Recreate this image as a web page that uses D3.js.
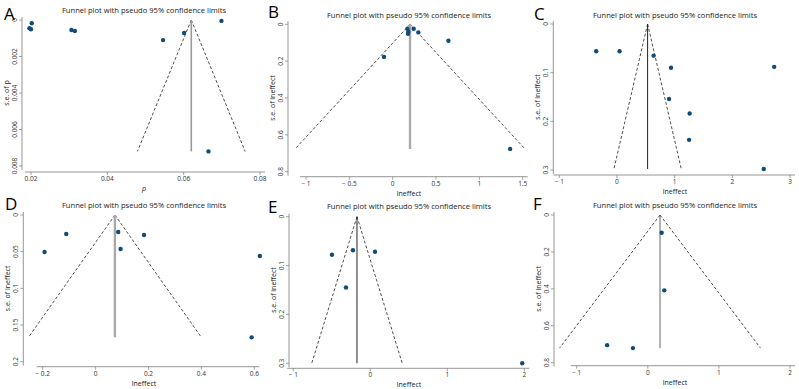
<!DOCTYPE html>
<html><head><meta charset="utf-8">
<script src="https://cdn.jsdelivr.net/npm/d3@7"></script>
<style>body{margin:0;background:#fff}svg{display:block}text{font-family:"Open Sans",sans-serif}</style>
</head><body><svg id="c" width="799" height="389"></svg>
<script>
// ---- data ----
const panelLetters = ["A","B","C","D","E","F"];
const titleText = "Funnel plot with pseudo 95% confidence limits";
const xTitles = ["p","lneffect","lneffect","lneffect","lneffect","lneffect"];
const yTitles = ["s.e. of p","s.e. of lneffect","s.e. of lneffect","s.e. of lneffect","s.e. of lneffect","s.e. of lneffect"];

const effA = [0.0196,0.0202,0.0200,0.0306,0.0315,0.0546,0.0601,0.0699,0.0665];
const seA  = [0.00045,0.00018,0.00051,0.00055,0.0006,0.0011,0.00071,0.00005,0.0072];
const effB = [0.17,0.18,0.177,0.242,0.296,0.643,-0.10,1.355];
const seB  = [0.024,0.040,0.051,0.024,0.044,0.089,0.177,0.677];
const effC = [-0.36,0.045,0.635,0.937,2.726,0.903,1.26,1.25,2.545];
const seC  = [0.056,0.056,0.065,0.090,0.088,0.154,0.184,0.238,0.298];
const effD = [-0.193,-0.111,0.0855,0.183,0.0945,0.621,0.590];
const seD  = [0.0504,0.0259,0.0232,0.0273,0.0464,0.0559,0.1668];
const effE = [-0.498,-0.225,0.061,-0.316,1.973];
const seE  = [0.078,0.0687,0.0716,0.145,0.300];
const effF = [0.195,0.232,-0.572,-0.209];
const seF  = [0.096,0.408,0.705,0.721];

const pooled = [0.062,0.20,0.531,0.073,-0.173,0.172];

const xTicks = [[0.02,0.04,0.06,0.08],[-1,-0.5,0,0.5,1,1.5],[-1,0,1,2,3],[-0.2,0,0.2,0.4,0.6],[-1,0,1,2],[-1,0,1,2]];
const yTicks = [[0,0.002,0.004,0.006,0.008],[0,0.2,0.4,0.6,0.8],[0,0.1,0.2,0.3],[0,0.05,0.1,0.15,0.2],[0,0.1,0.2,0.3],[0,0.2,0.4,0.6,0.8]];

const effs = [effA,effB,effC,effD,effE,effF];
const ses  = [seA,seB,seC,seD,seE,seF];

// ---- layout (pixel ranges of first/last ticks) ----
const layout = [
  {xr:[31,260],   yr:[20,166],    ax:22,    ay:172,   xt:144, letter:[4,20],    ttl:10,  vcol:"#999", vw:1.6},
  {xr:[306,522.7],yr:[24.3,171.7],ax:288,   ay:176.7, xt:409, letter:[268,18],  ttl:15,  vcol:"#aaa", vw:2.4},
  {xr:[559.3,790],yr:[24,170],    ax:553.3, ay:175,   xt:675, letter:[534,20],  ttl:15,  vcol:"#222", vw:1},
  {xr:[42.7,254.3],yr:[215,361.7],ax:23.3,  ay:366.7, xt:144, letter:[5,210],   ttl:205, vcol:"#aaa", vw:2.4},
  {xr:[293.3,524.3],yr:[216.7,363.3],ax:289,ay:368.3, xt:409, letter:[268,213], ttl:206, vcol:"#222", vw:1},
  {xr:[576.7,790],yr:[215,362.7], ax:554,   ay:365.7, xt:675, letter:[533,210], ttl:205, vcol:"#666", vw:1}
];

const svg = d3.select("#c");
const fmt = v => { const s = String(+v.toFixed(4)); return v < 0 ? "\u2212 " + s.slice(1) : s; };

layout.forEach((L, i) => {
  const xt = xTicks[i], yt = yTicks[i];
  const x = d3.scaleLinear().domain([xt[0], xt[xt.length-1]]).range(L.xr);
  const y = d3.scaleLinear().domain([yt[0], yt[yt.length-1]]).range(L.yr);
  const g = svg.append("g");
  const axc = "#8a8a8a";

  // axes lines
  g.append("line").attr("x1", L.xr[0]-6).attr("x2", L.xr[1]+5).attr("y1", L.ay).attr("y2", L.ay).attr("stroke", axc).attr("stroke-width", 0.9);
  g.append("line").attr("x1", L.ax).attr("x2", L.ax).attr("y1", L.yr[0]-3).attr("y2", L.yr[1]+4).attr("stroke", axc).attr("stroke-width", 0.9);

  // x ticks
  xt.forEach(v => {
    g.append("line").attr("x1", x(v)).attr("x2", x(v)).attr("y1", L.ay).attr("y2", L.ay+3).attr("stroke", axc).attr("stroke-width", 0.8);
    g.append("text").attr("x", x(v)).attr("y", L.ay+9).attr("text-anchor","middle").attr("font-size", 6.5).attr("fill","#333").text(fmt(v));
  });
  // y ticks
  yt.forEach(v => {
    g.append("line").attr("x1", L.ax-3).attr("x2", L.ax).attr("y1", y(v)).attr("y2", y(v)).attr("stroke", axc).attr("stroke-width", 0.8);
    g.append("text").attr("transform", `translate(${L.ax-5},${y(v)}) rotate(-90)`).attr("text-anchor","middle").attr("font-size", 6.5).attr("fill","#333").text(fmt(v));
  });

  // titles
  g.append("text").attr("x", L.xt).attr("y", L.ttl+3).attr("text-anchor","middle").attr("font-size", 7.6).attr("fill","#222").text(titleText);
  g.append("text").attr("x", L.letter[0]).attr("y", L.letter[1]).attr("font-size", 17).attr("font-family","'Liberation Sans',Arial,sans-serif").attr("fill","#000").text(panelLetters[i]);
  const xl = g.append("text").attr("x", L.xt).attr("y", L.ay+19).attr("text-anchor","middle").attr("font-size", 7).attr("fill","#222").text(xTitles[i]);
  if (i === 0) xl.attr("font-style","italic");
  g.append("text").attr("transform", `translate(${L.ax-13},${(L.yr[0]+L.yr[1])/2}) rotate(-90)`).attr("text-anchor","middle").attr("font-size", 7).attr("fill","#222").text(yTitles[i]);

  // funnel
  const seMax = d3.max(ses[i]);
  const p = pooled[i];
  const dash = "3,2";
  g.append("line").attr("x1", x(p)).attr("y1", y(0)).attr("x2", x(p - 1.96*seMax)).attr("y2", y(seMax)).attr("stroke","#222").attr("stroke-width",0.8).attr("stroke-dasharray",dash);
  g.append("line").attr("x1", x(p)).attr("y1", y(0)).attr("x2", x(p + 1.96*seMax)).attr("y2", y(seMax)).attr("stroke","#222").attr("stroke-width",0.8).attr("stroke-dasharray",dash);
  g.append("line").attr("x1", x(p)).attr("y1", y(0)).attr("x2", x(p)).attr("y2", y(seMax)).attr("stroke", L.vcol).attr("stroke-width", L.vw);

  // points
  g.selectAll("circle").data(effs[i].map((e,k)=>[e, ses[i][k]])).join("circle")
    .attr("cx", d => x(d[0])).attr("cy", d => y(d[1])).attr("r", 2.2).attr("fill","#0f4c7c");
});
</script></body></html>
